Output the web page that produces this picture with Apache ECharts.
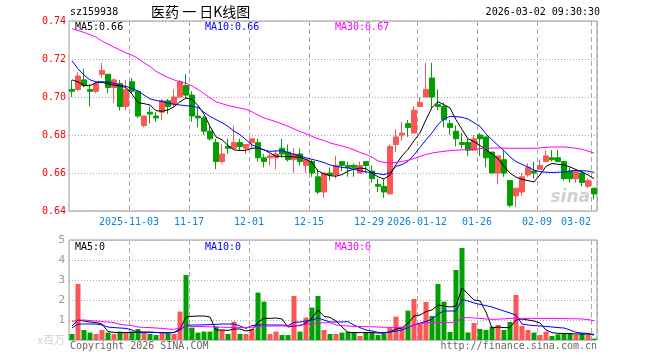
<!DOCTYPE html>
<html>
<head>
<meta charset="utf-8">
<script src="https://cdn.jsdelivr.net/npm/echarts@6.0.0/dist/echarts.min.js"></script>
<style>
  html, body { margin: 0; padding: 0; background: #fff; }
  #kline { width: 660px; height: 360px; }
</style>
</head>
<body>
<div id="kline"></div>
<script>
  // 交易日
  const dates = [
    '2025-10-20','2025-10-21','2025-10-22','2025-10-23','2025-10-24','2025-10-27','2025-10-28','2025-10-29','2025-10-30','2025-10-31',
    '2025-11-03','2025-11-04','2025-11-05','2025-11-06','2025-11-07','2025-11-10','2025-11-11','2025-11-12','2025-11-13','2025-11-14',
    '2025-11-17','2025-11-18','2025-11-19','2025-11-20','2025-11-21','2025-11-24','2025-11-25','2025-11-26','2025-11-27','2025-11-28',
    '2025-12-01','2025-12-02','2025-12-03','2025-12-04','2025-12-05','2025-12-08','2025-12-09','2025-12-10','2025-12-11','2025-12-12',
    '2025-12-15','2025-12-16','2025-12-17','2025-12-18','2025-12-19','2025-12-22','2025-12-23','2025-12-24','2025-12-25','2025-12-26',
    '2025-12-29','2025-12-30','2025-12-31','2026-01-05','2026-01-06','2026-01-07','2026-01-08','2026-01-09',
    '2026-01-12','2026-01-13','2026-01-14','2026-01-15','2026-01-16','2026-01-19','2026-01-20','2026-01-21','2026-01-22','2026-01-23',
    '2026-01-26','2026-01-27','2026-01-28','2026-01-29','2026-01-30','2026-02-02','2026-02-03','2026-02-04','2026-02-05','2026-02-06',
    '2026-02-09','2026-02-10','2026-02-11','2026-02-12','2026-02-13','2026-02-24','2026-02-25','2026-02-26','2026-02-27',
    '2026-03-02'
  ];
  const tickDates = ['2025-11-03','2025-11-17','2025-12-01','2025-12-15','2025-12-29','2026-01-12','2026-01-26','2026-02-09','2026-03-02'];
  const tickLabels = ['2025-11-03','11-17','12-01','12-15','12-29','2026-01-12','01-26','02-09','03-02'];

  const opens = [
    .704,.704,.709,.704,.703,.712,.712,.705,.707,.695,
    .708,.703,.685,.692,.690,.692,.698,.696,.700,.706,
    .701,.690,.689,.682,.676,.666,.674,.673,.676,.673,
    .676,.676,.668,.668,.668,.673,.671,.667,.670,.664,
    .666,.658,.650,.660,.659,.666,.664,.664,.660,.666,
    .661,.654,.653,.649,.675,.680,.686,.681,.695,.700,
    .710,.696,.695,.686,.682,.676,.676,.672,.680,.679,
    .671,.660,.667,.656,.648,.650,.659,.661,.662,.666,
    .668,.668,.666,.661,.657,.660,.653,.652
  ];
  const closes = [
    .703,.711,.706,.703,.707,.714,.705,.709,.695,.704,
    .703,.690,.690,.691,.689,.698,.695,.700,.708,.701,
    .690,.689,.682,.678,.666,.670,.673,.676,.674,.675,
    .678,.668,.666,.669,.670,.670,.667,.670,.666,.667,
    .660,.650,.660,.659,.664,.664,.663,.663,.664,.664,
    .657,.653,.650,.674,.679,.681,.684,.693,.697,.704,
    .700,.695,.688,.684,.678,.675,.672,.678,.678,.668,
    .660,.669,.660,.643,.652,.658,.663,.660,.664,.669,
    .667,.666,.657,.657,.661,.655,.656,.649
  ];
  const lows = [
    .700,.703,.705,.695,.702,.710,.702,.697,.693,.693,
    .702,.689,.684,.686,.687,.688,.691,.695,.700,.699,
    .687,.684,.680,.677,.662,.665,.670,.673,.672,.670,
    .673,.666,.663,.664,.662,.668,.666,.660,.664,.660,
    .658,.649,.647,.656,.657,.661,.658,.658,.660,.660,
    .655,.650,.647,.649,.671,.677,.679,.681,.695,.700,
    .694,.693,.684,.680,.674,.673,.669,.672,.669,.663,
    .660,.654,.658,.642,.642,.648,.658,.657,.662,.666,
    .666,.666,.656,.655,.655,.653,.652,.646
  ];
  const highs = [
    .709,.713,.715,.707,.708,.718,.712,.710,.709,.709,
    .710,.703,.690,.695,.692,.699,.699,.704,.709,.712,
    .703,.695,.690,.685,.678,.675,.678,.685,.678,.675,
    .678,.678,.670,.670,.672,.678,.675,.673,.673,.667,
    .667,.662,.660,.663,.669,.666,.666,.665,.666,.666,
    .664,.657,.657,.675,.683,.687,.688,.695,.700,.718,
    .718,.704,.697,.688,.685,.681,.678,.680,.681,.679,
    .671,.669,.672,.656,.652,.660,.665,.666,.667,.672,
    .672,.672,.666,.663,.662,.661,.657,.652
  ];
  // 均线
  const ma5 = [
    .709,.708,.706,.706,.7075,.7077,.707,.7062,.7058,.705,
    .7015,.697,.6965,.6958,.6928,.6925,.6932,.6948,.6975,.6995,
    .6988,.6955,.691,.6845,.679,.6775,.6745,.6722,.6718,.672,
    .673,.6732,.6723,.6705,.6688,.6688,.6686,.6685,.6682,.6672,
    .6655,.661,.6595,.6586,.6583,.6592,.661,.662,.6626,.6623,
    .66,.658,.6568,.659,.6645,.669,.6725,.677,.6811,.6881,
    .6945,.6975,.696,.6942,.6881,.683,.678,.6765,.6745,.6723,
    .67,.6675,.6635,.66,.6578,.6566,.656,.6553,.659,.6635,
    .665,.6646,.6642,.6632,.6618,.6605,.659,.657
  ];
  const ma10 = [
    .719,.7148,.7115,.709,.708,.708,.7079,.7072,.7063,.7056,
    .7045,.7032,.701,.699,.6982,.6976,.6968,.6962,.6958,.6954,
    .6952,.6945,.692,.6898,.6881,.6865,.6845,.682,.6802,.6775,
    .6748,.6735,.672,.6714,.6716,.6718,.6708,.6698,.669,.668,
    .6672,.6664,.6655,.6642,.6635,.663,.6626,.662,.6612,.6606,
    .6601,.6596,.6591,.6602,.6635,.6645,.6661,.6695,.6735,.6775,
    .6811,.6855,.6885,.6898,.6897,.6893,.6884,.6865,.6846,.6805,
    .6775,.6745,.6718,.6685,.666,.6645,.6632,.6615,.6607,.6604,
    .6603,.6604,.6605,.661,.6614,.6612,.661,.6603
  ];
  const ma30 = [
    .736,.735,.734,.7328,.7315,.7295,.7278,.7262,.7248,.7232,
    .722,.7203,.718,.7161,.7135,.7118,.7103,.709,.708,.7072,
    .7058,.704,.7018,.6995,.6975,.6965,.6955,.6948,.6942,.6935,
    .6922,.6905,.689,.688,.687,.6858,.6846,.6832,.6818,.6806,
    .6793,.678,.6771,.6758,.675,.6742,.6733,.6722,.6708,.6698,
    .6683,.6664,.6655,.6653,.6656,.6661,.6667,.6677,.6688,.6697,
    .6705,.671,.6714,.6718,.672,.6722,.6724,.6726,.6728,.673,
    .6731,.6732,.6731,.673,.673,.673,.673,.673,.6732,.6735,
    .6737,.6737,.6737,.6734,.673,.6725,.6715,.6705
  ];
  // 成交量 (百万)
  const volumes = [
    .3,2.8,.5,.37,.3,.5,.37,.3,.42,.38,
    .42,.55,.37,.3,.25,.37,.33,.3,1.42,3.25,
    .62,.37,.42,.42,.67,.5,.3,.92,.3,.3,
    .55,2.37,1.92,.3,.42,.25,.25,2.2,.42,1.12,
    1.62,2.2,.5,.3,.3,.37,.42,.4,.2,.4,
    .37,.25,.33,.6,1.17,.67,1.47,2.05,.8,1.9,
    1.2,2.8,1.92,.4,3.5,4.6,.38,.85,.55,.5,
    .67,.75,.5,.9,2.25,.7,.5,.37,.25,.42,
    .2,.28,.33,.33,.26,.32,.26,.07
  ];
  const vma5 = [
    .7,1.0,.95,.9,.87,.8,.42,.38,.37,.37,
    .38,.4,.4,.4,.38,.37,.35,.38,.55,1.15,
    1.18,1.2,1.2,1.15,.5,.5,.48,.55,.55,.45,
    .5,.9,1.08,1.08,1.1,1.05,.65,.7,.72,.85,
    1.1,1.5,1.18,1.13,.95,.65,.38,.37,.37,.37,
    .37,.35,.35,.4,.55,.6,.85,1.2,1.25,1.42,
    1.5,1.75,1.7,1.65,1.7,2.6,2.3,2.0,1.95,1.4,
    .6,.65,.62,.62,1.0,1.05,1.0,.95,.85,.5,
    .37,.33,.33,.32,.3,.3,.3,.25
  ];
  const vma10 = [
    .6,.8,.8,.8,.8,.75,.65,.62,.6,.58,
    .5,.38,.37,.37,.37,.37,.37,.37,.5,.72,
    .75,.75,.76,.77,.78,.8,.8,.8,.7,.58,
    .72,.75,.75,.75,.75,.75,.72,.88,.9,.95,
    1.0,1.1,1.0,.9,.9,.9,.92,.75,.62,.5,
    .45,.38,.37,.4,.45,.5,.62,.75,.85,.92,
    1.05,1.3,1.45,1.45,1.45,2.03,1.95,1.85,1.78,1.72,
    1.65,1.55,1.45,1.35,1.25,.8,.75,.72,.7,.68,
    .65,.62,.6,.5,.38,.35,.32,.28
  ];
  const vma30 = [
    .92,1.0,1.0,.97,.95,.92,.9,.87,.78,.75,
    .72,.65,.63,.62,.6,.58,.55,.53,.6,.7,
    .68,.67,.67,.66,.65,.64,.63,.62,.62,.62,
    .64,.67,.7,.7,.7,.7,.7,.72,.74,.78,
    .8,.84,.86,.87,.75,.72,.7,.68,.67,.67,
    .66,.65,.64,.63,.63,.63,.65,.75,.8,.87,
    .87,.87,.87,.87,.88,1.12,1.12,1.1,1.08,1.05,
    1.03,1.04,1.06,1.08,1.08,1.08,1.08,1.08,1.08,1.08,
    1.08,1.07,1.07,1.06,1.06,1.05,1.02,.97
  ];

  const UP = '#ff5555', DOWN = '#00a000';
  const MONO = '"DejaVu Sans Mono", "Liberation Mono", monospace';

  const chart = echarts.init(document.getElementById('kline'), null, {renderer: 'canvas'});

  const isTick = (i, v) => tickDates.indexOf(v) >= 0;
  const candle = dates.map((d, i) => [opens[i], closes[i], lows[i], highs[i]]);
  const volBars = volumes.map((v, i) => ({
    value: v,
    itemStyle: {color: closes[i] >= opens[i] ? UP : DOWN}
  }));

  function txt(x, y, text, color, opts) {
    return Object.assign({
      type: 'text', x: x, y: y, silent: true,
      style: {text: text, fill: color, font: '10px ' + MONO, align: 'left', verticalAlign: 'middle'}
    }, opts || {});
  }

  const dashV = {show: true, interval: isTick, lineStyle: {color: '#aaa', type: [5, 3], width: 1}};
  const dotH = {show: true, lineStyle: {color: '#aaa', type: [1, 2], width: 1}};

  chart.setOption({
    animation: false,
    backgroundColor: '#fff',
    grid: [
      {left: 69, top: 21, width: 528, height: 190, show: true, borderColor: '#999', borderWidth: 1, backgroundColor: 'transparent'},
      {left: 69, top: 240, width: 528, height: 100, show: true, borderColor: '#999', borderWidth: 1, backgroundColor: 'transparent'}
    ],
    xAxis: [
      {
        type: 'category', gridIndex: 0, data: dates, boundaryGap: true,
        axisLine: {show: false}, axisTick: {show: false},
        axisLabel: {
          interval: isTick, margin: 6, color: '#0a84d6', fontFamily: MONO, fontSize: 10,
          formatter: function (v) {
            const k = tickDates.indexOf(v);
            return k === tickDates.length - 1 ? '{b|' + tickLabels[k] + '}' : '{a|' + tickLabels[k] + '}';
          },
          rich: {a: {padding: [0, 6, 0, 0]}, b: {padding: [0, 36, 0, 0]}}
        },
        splitLine: dashV
      },
      {
        type: 'category', gridIndex: 1, data: dates, boundaryGap: true,
        axisLine: {show: false}, axisTick: {show: false}, axisLabel: {show: false},
        splitLine: dashV
      }
    ],
    yAxis: [
      {
        type: 'value', gridIndex: 0, min: 0.64, max: 0.74, interval: 0.02,
        axisLine: {show: false}, axisTick: {show: false},
        axisLabel: {color: '#ff0000', fontFamily: MONO, fontSize: 10, margin: 3, formatter: v => v.toFixed(2)},
        splitLine: dotH
      },
      {
        type: 'value', gridIndex: 1, min: 0, max: 5, interval: 1,
        axisLine: {show: false}, axisTick: {show: false},
        axisLabel: {
          color: '#999', fontFamily: MONO, fontSize: 11, margin: 4,
          formatter: v => v === 0 ? '{u|x百万}' : String(v),
          rich: {u: {color: '#d0d0d0', fontFamily: '"Noto Sans CJK SC", sans-serif', fontSize: 11}}
        },
        splitLine: dotH
      }
    ],
    series: [
      {
        name: 'K', type: 'candlestick', xAxisIndex: 0, yAxisIndex: 0, data: candle, barWidth: 5,
        itemStyle: {color: UP, color0: DOWN, borderColor: UP, borderColor0: DOWN, borderWidth: 1}
      },
      {name: 'MA5', type: 'line', data: ma5, symbol: 'none', lineStyle: {color: '#000', width: 1}, z: 3},
      {name: 'MA10', type: 'line', data: ma10, symbol: 'none', lineStyle: {color: '#0000ff', width: 1}, z: 3},
      {name: 'MA30', type: 'line', data: ma30, symbol: 'none', lineStyle: {color: '#ff00ff', width: 1}, z: 3},
      {name: 'VOL', type: 'bar', xAxisIndex: 1, yAxisIndex: 1, data: volBars, barWidth: 5},
      {name: 'VMA5', type: 'line', xAxisIndex: 1, yAxisIndex: 1, data: vma5, symbol: 'none', lineStyle: {color: '#000', width: 1}, z: 3},
      {name: 'VMA10', type: 'line', xAxisIndex: 1, yAxisIndex: 1, data: vma10, symbol: 'none', lineStyle: {color: '#0000ff', width: 1}, z: 3},
      {name: 'VMA30', type: 'line', xAxisIndex: 1, yAxisIndex: 1, data: vma30, symbol: 'none', lineStyle: {color: '#ff00ff', width: 1}, z: 3}
    ],
    graphic: [
      txt(70, 12, 'sz159938', '#000'),
      txt(151, 12, '医药 一 日K线图', '#000', {style: {text: '医药 一 日K线图', fill: '#000', font: '14px "Noto Sans CJK SC", sans-serif', align: 'left', verticalAlign: 'middle'}}),
      txt(600, 12, '2026-03-02 09:30:30', '#000', {style: {text: '2026-03-02 09:30:30', fill: '#000', font: '10px ' + MONO, align: 'right', verticalAlign: 'middle'}}),
      txt(75, 27, 'MA5:0.66', '#000'),
      txt(205, 27, 'MA10:0.66', '#0000ff'),
      txt(335, 27, 'MA30:0.67', '#ff00ff'),
      txt(75, 247, 'MA5:0', '#000'),
      txt(205, 247, 'MA10:0', '#0000ff'),
      txt(335, 247, 'MA30:0', '#ff00ff'),
      txt(70, 346, 'Copyright 2026 SINA.COM', '#666'),
      txt(597, 346, 'http://finance.sina.com.cn', '#666', {style: {text: 'http://finance.sina.com.cn', fill: '#666', font: '10px ' + MONO, align: 'right', verticalAlign: 'middle'}}),
      txt(590, 198, 'sina', 'rgba(190,190,190,0.7)', {style: {text: 'sina', fill: 'rgba(190,190,190,0.7)', font: 'italic bold 17px "DejaVu Sans", sans-serif', align: 'right', verticalAlign: 'middle'}})
    ]
  });

  window.addEventListener('resize', chart.resize);
</script>
</body>
</html>
